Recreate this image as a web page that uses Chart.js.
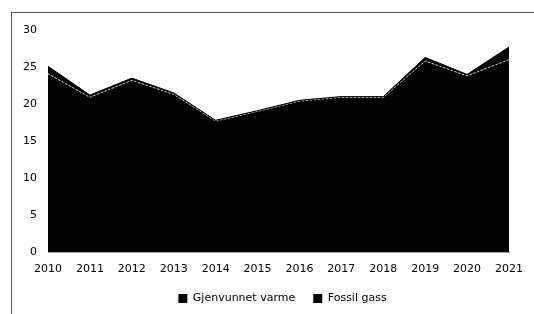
<!DOCTYPE html>
<html>
<head>
<meta charset="utf-8">
<script src="https://cdn.jsdelivr.net/npm/chart.js@4/dist/chart.umd.min.js"></script>
<style>
  html, body { margin: 0; padding: 0; background: #fff; }
  #wrap { position: relative; width: 534px; height: 314px; overflow: hidden; }
  #frame { position: absolute; left: 11px; top: 12px; width: 600px; height: 400px;
           border-left: 1px solid #595959; border-top: 1px solid #595959; }
  #c { position: absolute; left: 0; top: 0; }
</style>
</head>
<body>
<div id="wrap">
  <div id="frame"></div>
  <canvas id="c" width="534" height="314"></canvas>
</div>
<script>
const years = ["2010","2011","2012","2013","2014","2015","2016","2017","2018","2019","2020","2021"];
const fossilGass = [24.1, 20.9, 23.2, 21.3, 17.7, 19.0, 20.4, 20.9, 20.9, 25.8, 23.8, 26.0];
const gjenvunnetVarme = [1.0, 0.3, 0.3, 0.2, 0.1, 0.1, 0.1, 0.1, 0.1, 0.5, 0.2, 1.7];
const yTicks = [0, 5, 10, 15, 20, 25, 30];

const totals = fossilGass.map((v, i) => v + gjenvunnetVarme[i]);
const FONT = "'DejaVu Sans', sans-serif";

const shiftLegend = {
  id: 'shiftLegend',
  afterLayout(chart) {
    const lg = chart.legend;
    if (lg) { lg.left += 27; lg.right += 27; }
  }
};

new Chart(document.getElementById('c'), {
  type: 'line',
  data: {
    labels: years,
    datasets: [
      {
        label: 'Gjenvunnet varme',
        data: totals,
        backgroundColor: '#000',
        borderColor: '#000',
        borderWidth: 1,
        pointRadius: 0,
        tension: 0,
        fill: '+1'
      },
      {
        label: 'Fossil gass',
        data: fossilGass,
        backgroundColor: '#000',
        borderColor: '#d9d9d9',
        borderWidth: 1,
        borderDash: [2, 2],
        pointRadius: 0,
        tension: 0,
        fill: 'origin'
      }
    ]
  },
  plugins: [shiftLegend],
  options: {
    responsive: false,
    animation: false,
    layout: { padding: { left: 0, right: 23, top: 30, bottom: 0 } },
    plugins: {
      filler: { drawTime: 'beforeDatasetsDraw' },
      tooltip: { enabled: false },
      legend: {
        position: 'bottom',
        labels: {
          boxWidth: 9,
          boxHeight: 9,
          padding: 18,
          color: '#000',
          font: { family: FONT, size: 11 },
          generateLabels: (chart) => chart.data.datasets.map((ds, i) => ({
            text: ds.label,
            fillStyle: '#000',
            strokeStyle: '#000',
            lineWidth: 0,
            hidden: false,
            datasetIndex: i
          }))
        }
      }
    },
    scales: {
      x: {
        type: 'category',
        offset: false,
        grid: { display: false, drawTicks: false },
        border: { display: true, color: '#a6a6a6', width: 1 },
        ticks: { color: '#000', font: { family: FONT, size: 11 }, padding: 11, maxRotation: 0, autoSkip: false },
        afterFit: (s) => { s.height = 23; }
      },
      y: {
        min: 0,
        max: 30,
        grid: { display: false, drawTicks: false },
        border: { display: false },
        afterBuildTicks: (s) => { s.ticks = yTicks.map(v => ({ value: v })); },
        ticks: { color: '#000', font: { family: FONT, size: 11 }, padding: 11 },
        afterFit: (s) => { s.width = 48; }
      }
    }
  }
});
</script>
</body>
</html>
